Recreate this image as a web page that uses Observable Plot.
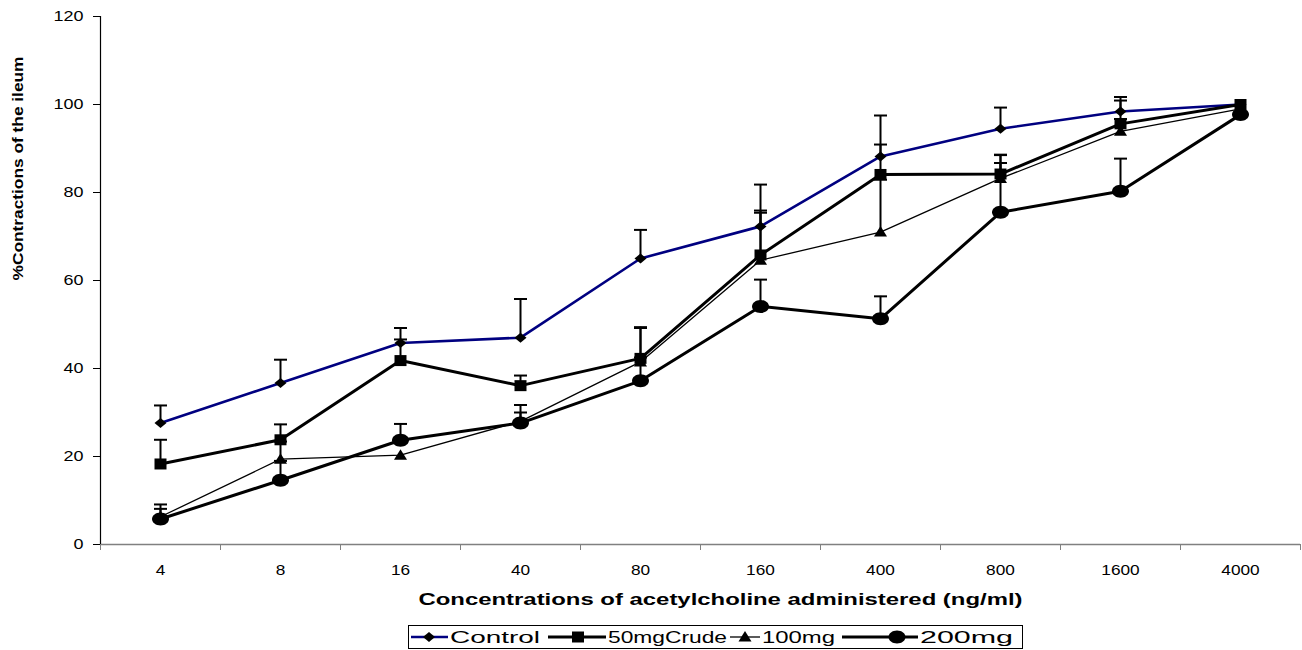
<!DOCTYPE html>
<html>
<head>
<meta charset="utf-8">
<script src="https://cdn.jsdelivr.net/npm/d3@7"></script>
<script src="https://cdn.jsdelivr.net/npm/@observablehq/plot@0.6"></script>
<style>
  html, body { margin: 0; padding: 0; background: #fff; }
  #wrap { position: relative; width: 1302px; height: 650px; font-family: "Liberation Sans", Arial, sans-serif; }
  #chart svg { display: block; }
  #legend { position: absolute; left: 408px; top: 625px; }
</style>
</head>
<body>
<div id="wrap">
  <div id="chart"></div>
  <svg id="legend" width="616" height="25"></svg>
</div>
<script>
// ---- data ----
const concentrations = ["4", "8", "16", "40", "80", "160", "400", "800", "1600", "4000"];
const seriesNames = ["Control", "50mgCrude", "100mg", "200mg"];

const control      = [27.6, 36.7, 45.8, 47.0, 65.0, 72.3, 88.2, 94.5, 98.4, 100];
const controlSem   = [4.0, 5.3, 3.4, 8.8, 6.5, 9.5, 9.3, 4.8, 3.3, null];
const crude50      = [18.3, 23.8, 41.8, 36.1, 42.3, 65.8, 84.1, 84.2, 95.6, 100];
const crude50Sem   = [5.5, 3.5, 4.8, 2.3, 7.1, 9.6, 6.8, 4.4, 1.1, null];
const mg100        = [6.3, 19.4, 20.3, 28.0, 41.5, 64.6, 71.0, 83.2, 93.9, 99.0];
const mg100Sem     = [1.8, 4.0, null, 2.0, 7.7, 11.3, 11.9, 3.5, 7.0, null];
const mg200        = [5.8, 14.6, 23.7, 27.6, 37.2, 54.1, 51.3, 75.5, 80.3, 97.7];
const mg200Sem     = [3.3, 4.4, 3.7, 4.1, 5.3, 6.1, 5.1, 13.0, 7.4, null];

const yTicks = [0, 20, 40, 60, 80, 100, 120];
const xTitle = "Concentrations of acetylcholine administered (ng/ml)";
const yTitle = "%Contractions of the ileum";

// ---- build table ----
const valueSets = [control, crude50, mg100, mg200];
const semSets = [controlSem, crude50Sem, mg100Sem, mg200Sem];
const rows = [];
seriesNames.forEach((s, k) => {
  concentrations.forEach((c, i) => {
    rows.push({series: s, conc: c, idx: i, value: valueSets[k][i], sem: semSets[k][i]});
  });
});
const pos = d => d.idx + 0.5;

// ---- marker shapes ----
function ellipsePath(ctx, rx, ry) {
  const k = 0.5523;
  ctx.moveTo(rx, 0);
  ctx.bezierCurveTo(rx, ry * k, rx * k, ry, 0, ry);
  ctx.bezierCurveTo(-rx * k, ry, -rx, ry * k, -rx, 0);
  ctx.bezierCurveTo(-rx, -ry * k, -rx * k, -ry, 0, -ry);
  ctx.bezierCurveTo(rx * k, -ry, rx, -ry * k, rx, 0);
  ctx.closePath();
}
const symDiamond = {draw(ctx) { ctx.moveTo(0, -5); ctx.lineTo(6, 0); ctx.lineTo(0, 5); ctx.lineTo(-6, 0); ctx.closePath(); }};
const symSquare = {draw(ctx) { ctx.moveTo(-6, -5.5); ctx.lineTo(6, -5.5); ctx.lineTo(6, 5.5); ctx.lineTo(-6, 5.5); ctx.closePath(); }};
const symTriangle = {draw(ctx) { ctx.moveTo(0, -6); ctx.lineTo(6.5, 4.5); ctx.lineTo(-6.5, 4.5); ctx.closePath(); }};
const symCircle = {draw(ctx) { ellipsePath(ctx, 8.5, 6.5); }};
const symCap = {draw(ctx) { ctx.moveTo(-6.5, 0); ctx.lineTo(6.5, 0); }};

const styles = {
  "Control":   {stroke: "#000080", width: 2.6, symbol: symDiamond},
  "50mgCrude": {stroke: "#000000", width: 3.0, symbol: symSquare},
  "100mg":     {stroke: "#000000", width: 1.3, symbol: symTriangle},
  "200mg":     {stroke: "#000000", width: 3.0, symbol: symCircle}
};

const font = '"Liberation Sans", Arial, sans-serif';
const marks = [
  Plot.axisY({ticks: yTicks, tickSize: 7, tickPadding: 10, fontSize: 15, stroke: "#000", label: null}),
  Plot.axisX({ticks: d3.range(0, concentrations.length + 1), tickSize: 6, tickFormat: () => "", stroke: "#808080", label: null}),
  Plot.axisX({ticks: d3.range(concentrations.length).map(i => i + 0.5), tickSize: 0, tickPadding: 20,
              tickFormat: t => concentrations[Math.floor(t)], fontSize: 15, label: null}),
  Plot.ruleY([0], {stroke: "#808080", strokeWidth: 1.6}),
  Plot.ruleX([0], {stroke: "#000", strokeWidth: 1.2})
];
seriesNames.forEach(s => {
  marks.push(Plot.line(rows.filter(d => d.series === s), {x: pos, y: "value", stroke: styles[s].stroke, strokeWidth: styles[s].width, strokeLinejoin: "round"}));
});
const errRows = rows.filter(d => d.sem != null);
marks.push(Plot.ruleX(errRows, {x: pos, y1: "value", y2: d => d.value + d.sem, stroke: "#000", strokeWidth: 2}));
marks.push(Plot.dot(errRows, {x: pos, y: d => d.value + d.sem, symbol: symCap, stroke: "#000", strokeWidth: 2, fill: "none"}));
seriesNames.forEach(s => {
  marks.push(Plot.dot(rows.filter(d => d.series === s), {x: pos, y: "value", symbol: styles[s].symbol, fill: "#000", stroke: "none"}));
});
marks.push(Plot.text([xTitle], {frameAnchor: "bottom", dx: 20, dy: 60, fontWeight: "bold", fontSize: 16, fill: "#000"}));
marks.push(Plot.text([yTitle], {frameAnchor: "left", dx: -82, dy: 0, rotate: -90, fontWeight: "bold", fontSize: 14, fill: "#000"}));

const chart = Plot.plot({
  width: 1302,
  height: 620,
  marginLeft: 100,
  marginRight: 2,
  marginTop: 16,
  marginBottom: 76,
  x: {type: "linear", domain: [0, concentrations.length], axis: null},
  y: {domain: [0, 120], axis: null},
  style: {fontFamily: font, background: "#fff", color: "#000", overflow: "visible"},
  marks
});
document.getElementById("chart").appendChild(chart);

// horizontal stretch of text to mimic the reference
function stretch(sel, factor) {
  sel.each(function() {
    const len = this.getComputedTextLength();
    if (len > 0) {
      this.setAttribute("textLength", (len * factor).toFixed(1));
      this.setAttribute("lengthAdjust", "spacingAndGlyphs");
    }
  });
}
const svgSel = d3.select(chart);
stretch(svgSel.selectAll('g[aria-label="y-axis tick label"] text'), 1.2);
stretch(svgSel.selectAll('g[aria-label="x-axis tick label"] text'), 1.15);
svgSel.selectAll("text").each(function() {
  const t = this.textContent;
  if (t === xTitle) { this.setAttribute("textLength", 604); this.setAttribute("lengthAdjust", "spacingAndGlyphs"); }
  if (t === yTitle) { this.setAttribute("textLength", 224); this.setAttribute("lengthAdjust", "spacingAndGlyphs"); }
});

// ---- legend ----
const leg = d3.select("#legend");
leg.append("rect").attr("x", 0.5).attr("y", 0.5).attr("width", 614).attr("height", 23).attr("fill", "#fff").attr("stroke", "#000").attr("stroke-width", 1);
const legendLayout = [
  {lineX: 3, lineW: 37, markX: 21, textW: 90},
  {lineX: 140, lineW: 58, markX: 170, textW: 119},
  {lineX: 322, lineW: 30, markX: 337, textW: 73},
  {lineX: 434, lineW: 76, markX: 489, textW: 93}
];
seriesNames.forEach((s, k) => {
  const L = legendLayout[k], st = styles[s];
  const g = leg.append("g");
  g.append("line").attr("x1", L.lineX).attr("x2", L.lineX + L.lineW).attr("y1", 12).attr("y2", 12)
    .attr("stroke", st.stroke).attr("stroke-width", st.width);
  g.append("path").attr("d", d3.symbol(st.symbol)()).attr("transform", `translate(${L.markX},12)`).attr("fill", "#000");
  g.append("text").attr("x", L.lineX + L.lineW + 2).attr("y", 12).attr("dy", "0.36em")
    .attr("font-family", font).attr("font-size", 16).attr("fill", "#000")
    .attr("textLength", L.textW).attr("lengthAdjust", "spacingAndGlyphs").text(s);
});
</script>
</body>
</html>
